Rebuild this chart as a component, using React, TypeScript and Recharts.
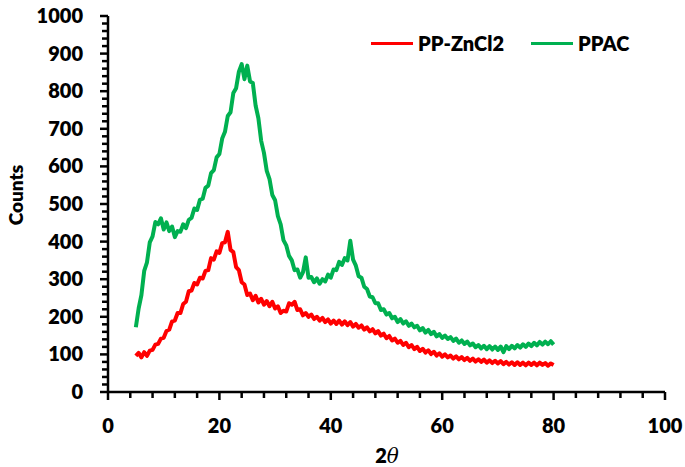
import React from 'react';
import { LineChart, Line, XAxis, YAxis } from 'recharts';

// 2θ positions (degrees)
const twoTheta = [
  5, 5.5, 6, 6.5, 7, 7.5, 8, 8.5, 9, 9.5, 10, 10.5, 11, 11.5, 12, 12.5, 13, 13.5, 14, 14.5,
  15, 15.5, 16, 16.5, 17, 17.5, 18, 18.5, 19, 19.5, 20, 20.5, 21, 21.5, 22, 22.5, 23, 23.5, 24, 24.5,
  25, 25.5, 26, 26.5, 27, 27.5, 28, 28.5, 29, 29.5, 30, 30.5, 31, 31.5, 32, 32.5, 33, 33.5, 34, 34.5,
  35, 35.5, 36, 36.5, 37, 37.5, 38, 38.5, 39, 39.5, 40, 40.5, 41, 41.5, 42, 42.5, 43, 43.5, 44, 44.5,
  45, 45.5, 46, 46.5, 47, 47.5, 48, 48.5, 49, 49.5, 50, 50.5, 51, 51.5, 52, 52.5, 53, 53.5, 54, 54.5,
  55, 55.5, 56, 56.5, 57, 57.5, 58, 58.5, 59, 59.5, 60, 60.5, 61, 61.5, 62, 62.5, 63, 63.5, 64, 64.5,
  65, 65.5, 66, 66.5, 67, 67.5, 68, 68.5, 69, 69.5, 70, 70.5, 71, 71.5, 72, 72.5, 73, 73.5, 74, 74.5,
  75, 75.5, 76, 76.5, 77, 77.5, 78, 78.5, 79, 79.5, 80,
];

// PP-ZnCl2 counts
const ppZnCl2 = [
  96, 104, 92, 106, 96, 110, 112, 126, 128, 142, 144, 162, 166, 188, 190, 210, 210, 234, 240, 268,
  270, 290, 286, 304, 302, 322, 324, 356, 352, 374, 370, 396, 398, 426, 378, 372, 332, 324, 292, 286,
  258, 262, 244, 256, 238, 248, 232, 242, 228, 240, 222, 228, 210, 216, 214, 236, 232, 240, 218, 220,
  204, 210, 200, 206, 194, 200, 190, 197, 186, 193, 182, 190, 181, 190, 179, 188, 178, 186, 174, 181,
  171, 177, 166, 172, 161, 167, 156, 162, 150, 155, 143, 149, 137, 142, 131, 136, 125, 131, 119, 125,
  114, 120, 109, 115, 105, 111, 101, 107, 97, 103, 94, 100, 92, 97, 89, 95, 87, 93, 85, 91,
  83, 89, 81, 87, 80, 86, 78, 84, 77, 83, 76, 82, 74, 80, 73, 79, 72, 79, 72, 78,
  71, 78, 72, 78, 71, 78, 72, 77, 70, 76, 72,
];

// PPAC counts
const ppac = [
  172, 222, 258, 322, 345, 398, 414, 452, 446, 462, 432, 451, 428, 440, 412, 428, 426, 446, 436, 458,
  463, 488, 484, 511, 514, 543, 549, 582, 590, 624, 633, 674, 692, 734, 744, 795, 808, 852, 872, 832,
  868, 826, 822, 762, 728, 668, 636, 588, 566, 524, 510, 468, 446, 404, 390, 362, 350, 324, 326, 304,
  318, 358, 304, 306, 292, 302, 288, 300, 294, 312, 304, 326, 324, 346, 338, 356, 350, 402, 352, 336,
  308, 304, 280, 274, 254, 252, 236, 236, 218, 220, 206, 210, 196, 200, 186, 194, 182, 188, 176, 182,
  172, 176, 164, 170, 158, 165, 154, 160, 148, 154, 144, 150, 141, 146, 136, 142, 131, 137, 128, 134,
  124, 129, 119, 125, 116, 123, 114, 122, 113, 121, 112, 121, 106, 122, 114, 123, 116, 125, 118, 127,
  120, 129, 122, 131, 124, 133, 126, 134, 127, 135, 126,
];

const xTicks = [0, 4, 8, 12, 16, 20, 24, 28, 32, 36, 40, 44, 48, 52, 56, 60, 64, 68, 72, 76, 80, 84, 88, 92, 96, 100];
const yTicks = [
  0, 20, 40, 60, 80, 100, 120, 140, 160, 180, 200, 220, 240, 260, 280, 300, 320, 340, 360, 380,
  400, 420, 440, 460, 480, 500, 520, 540, 560, 580, 600, 620, 640, 660, 680, 700, 720, 740, 760, 780,
  800, 820, 840, 860, 880, 900, 920, 940, 960, 980, 1000,
];

const seriesNames = ['PP-ZnCl2', 'PPAC'];
const RED = '#FF0000';
const GREEN = '#00B050';
const FONT = 'Lato, "Open Sans", sans-serif';

const data = twoTheta.map((t, i) => ({ t, red: ppZnCl2[i], green: ppac[i] }));

const XTick = (props: any) => {
  const { x, y, payload } = props;
  const major = payload.value % 20 === 0;
  return (
    <g>
      <line x1={x} x2={x} y1={y} y2={y + (major ? 8 : 6)} stroke="#000" strokeWidth={2.5} />
      {major && (
        <text x={x} y={y + 41} textAnchor="middle" fontFamily={FONT} fontWeight={800} fontSize={20} fill="#000">
          {payload.value}
        </text>
      )}
    </g>
  );
};

const YTick = (props: any) => {
  const { x, y, payload } = props;
  const major = payload.value % 100 === 0;
  return (
    <g>
      <line x1={x} x2={x - (major ? 8 : 6)} y1={y} y2={y} stroke="#000" strokeWidth={2.5} />
      {major && (
        <text x={x - 25} y={y + 7} textAnchor="end" fontFamily={FONT} fontWeight={800} fontSize={20} fill="#000">
          {payload.value}
        </text>
      )}
    </g>
  );
};

const LegendItem: React.FC<{ left: number; color: string; name: string }> = ({ left, color, name }) => (
  <div style={{ position: 'absolute', left, top: 43, transform: 'translateY(-50%)', display: 'flex', alignItems: 'center' }}>
    <span style={{ display: 'inline-block', width: 42, height: 3, background: color, marginRight: 5 }} />
    <span style={{ fontFamily: FONT, fontWeight: 800, fontSize: 20, lineHeight: 1, color: '#000' }}>{name}</span>
  </div>
);

export default function App() {
  return (
    <div style={{ position: 'absolute', left: 0, top: 0, width: 685, height: 467, background: '#fff' }}>
      <LineChart width={685} height={467} data={data} margin={{ top: 16, right: 20, bottom: 45, left: 48 }}>
        <XAxis
          dataKey="t"
          type="number"
          domain={[0, 100]}
          ticks={xTicks}
          interval={0}
          tickSize={0}
          tickMargin={0}
          tickLine={false}
          tick={<XTick />}
          axisLine={{ stroke: '#000', strokeWidth: 2.5 }}
          height={30}
        />
        <YAxis
          type="number"
          domain={[0, 1000]}
          ticks={yTicks}
          interval={0}
          tickSize={0}
          tickMargin={0}
          tickLine={false}
          tick={<YTick />}
          axisLine={{ stroke: '#000', strokeWidth: 2.5 }}
          width={60}
        />
        <Line type="linear" dataKey="red" name={seriesNames[0]} stroke={RED} strokeWidth={4} strokeLinejoin="round" dot={false} isAnimationActive={false} />
        <Line type="linear" dataKey="green" name={seriesNames[1]} stroke={GREEN} strokeWidth={4} strokeLinejoin="round" dot={false} isAnimationActive={false} />
      </LineChart>
      <LegendItem left={371} color={RED} name={seriesNames[0]} />
      <LegendItem left={531} color={GREEN} name={seriesNames[1]} />
      <div
        style={{
          position: 'absolute', left: 15, top: 195, transform: 'translate(-50%, -50%) rotate(-90deg)',
          fontFamily: FONT, fontWeight: 800, fontSize: 19, lineHeight: 1, whiteSpace: 'nowrap',
        }}
      >
        Counts
      </div>
      <div
        style={{
          position: 'absolute', left: 387, top: 455, transform: 'translate(-50%, -50%)',
          fontFamily: FONT, fontWeight: 800, fontSize: 20, lineHeight: 1, whiteSpace: 'nowrap',
        }}
      >
        2<span style={{ fontFamily: '"DejaVu Serif", serif', fontStyle: 'italic', fontWeight: 400 }}>θ</span>
      </div>
    </div>
  );
}
